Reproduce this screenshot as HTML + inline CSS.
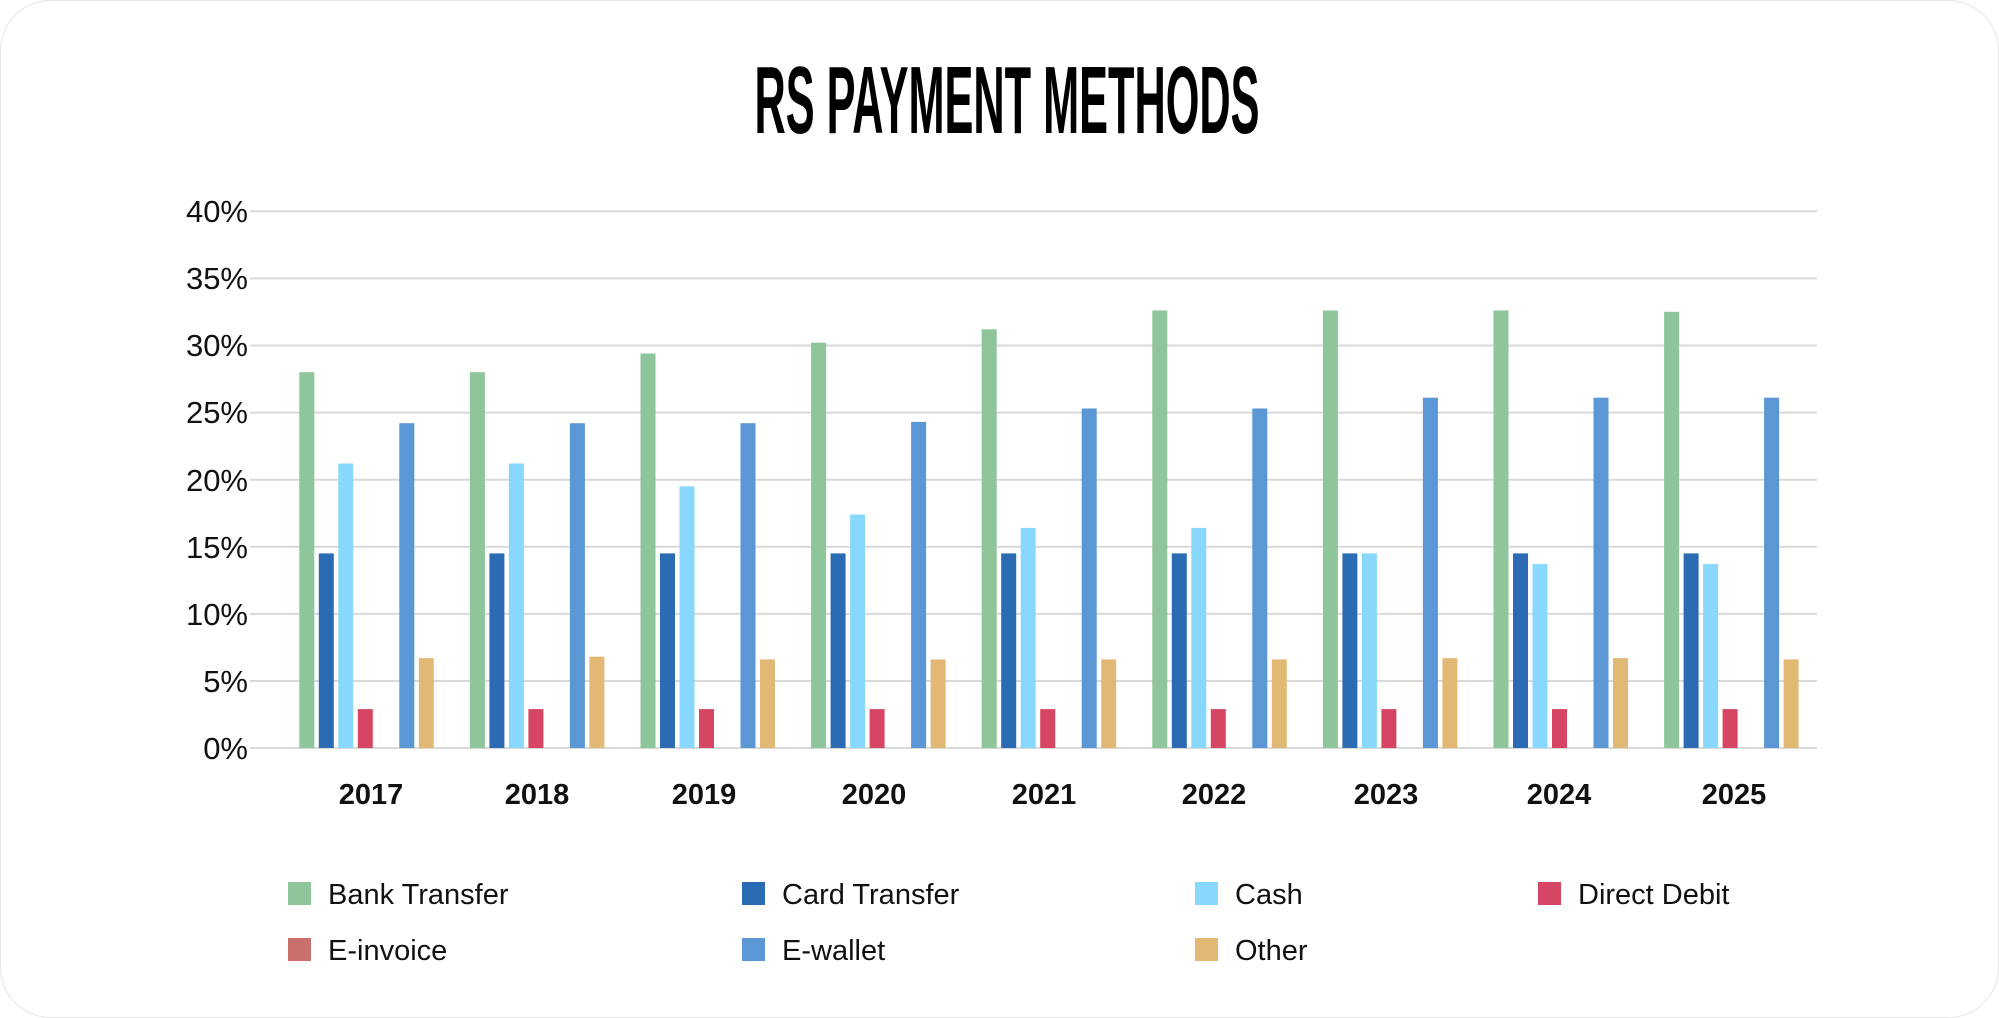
<!DOCTYPE html>
<html><head><meta charset="utf-8"><style>
html,body{margin:0;padding:0;background:#fff;}
svg{display:block;}
</style></head><body>
<svg width="1999" height="1018" viewBox="0 0 1999 1018" xmlns="http://www.w3.org/2000/svg" font-family="Liberation Sans, sans-serif">
<rect x="0.5" y="0.5" width="1998" height="1017" rx="50" fill="#fff" stroke="#e6e6e6"/>
<text x="1007" y="133" text-anchor="middle" font-size="96" font-weight="bold" textLength="505" lengthAdjust="spacingAndGlyphs" fill="#000">RS PAYMENT METHODS</text>
<g stroke="#d9d9d9" stroke-width="2">
<line x1="250" x2="1817" y1="211.3" y2="211.3"/>
<line x1="250" x2="1817" y1="278.4" y2="278.4"/>
<line x1="250" x2="1817" y1="345.5" y2="345.5"/>
<line x1="250" x2="1817" y1="412.6" y2="412.6"/>
<line x1="250" x2="1817" y1="479.7" y2="479.7"/>
<line x1="250" x2="1817" y1="546.8" y2="546.8"/>
<line x1="250" x2="1817" y1="613.9" y2="613.9"/>
<line x1="250" x2="1817" y1="681" y2="681"/>
<line x1="250" x2="1817" y1="748" y2="748"/>
</g>
<g font-size="31" fill="#111" text-anchor="end">
<text x="248" y="222">40%</text><text x="248" y="289">35%</text><text x="248" y="356">30%</text>
<text x="248" y="423">25%</text><text x="248" y="491">20%</text><text x="248" y="558">15%</text>
<text x="248" y="625">10%</text><text x="248" y="692">5%</text><text x="248" y="759">0%</text>
</g>
<g transform="translate(299.3,748) scale(1,-1)">
<rect x="0" width="15" height="375.8" fill="#8fc59a"/><rect x="19.5" width="15" height="194.6" fill="#2b6bb3"/><rect x="39" width="15" height="284.5" fill="#88d8fd"/><rect x="58.5" width="15" height="38.9" fill="#d64664"/><rect x="100" width="15" height="324.8" fill="#5b96d5"/><rect x="119.5" width="15" height="89.9" fill="#e2b974"/></g>
<g transform="translate(469.9,748) scale(1,-1)">
<rect x="0" width="15" height="375.8" fill="#8fc59a"/><rect x="19.5" width="15" height="194.6" fill="#2b6bb3"/><rect x="39" width="15" height="284.5" fill="#88d8fd"/><rect x="58.5" width="15" height="38.9" fill="#d64664"/><rect x="100" width="15" height="324.8" fill="#5b96d5"/><rect x="119.5" width="15" height="91.3" fill="#e2b974"/></g>
<g transform="translate(640.5,748) scale(1,-1)">
<rect x="0" width="15" height="394.5" fill="#8fc59a"/><rect x="19.5" width="15" height="194.6" fill="#2b6bb3"/><rect x="39" width="15" height="261.7" fill="#88d8fd"/><rect x="58.5" width="15" height="38.9" fill="#d64664"/><rect x="100" width="15" height="324.8" fill="#5b96d5"/><rect x="119.5" width="15" height="88.6" fill="#e2b974"/></g>
<g transform="translate(811.1,748) scale(1,-1)">
<rect x="0" width="15" height="405.3" fill="#8fc59a"/><rect x="19.5" width="15" height="194.6" fill="#2b6bb3"/><rect x="39" width="15" height="233.5" fill="#88d8fd"/><rect x="58.5" width="15" height="38.9" fill="#d64664"/><rect x="100" width="15" height="326.1" fill="#5b96d5"/><rect x="119.5" width="15" height="88.6" fill="#e2b974"/></g>
<g transform="translate(981.7,748) scale(1,-1)">
<rect x="0" width="15" height="418.7" fill="#8fc59a"/><rect x="19.5" width="15" height="194.6" fill="#2b6bb3"/><rect x="39" width="15" height="220.1" fill="#88d8fd"/><rect x="58.5" width="15" height="38.9" fill="#d64664"/><rect x="100" width="15" height="339.5" fill="#5b96d5"/><rect x="119.5" width="15" height="88.6" fill="#e2b974"/></g>
<g transform="translate(1152.3,748) scale(1,-1)">
<rect x="0" width="15" height="437.5" fill="#8fc59a"/><rect x="19.5" width="15" height="194.6" fill="#2b6bb3"/><rect x="39" width="15" height="220.1" fill="#88d8fd"/><rect x="58.5" width="15" height="38.9" fill="#d64664"/><rect x="100" width="15" height="339.5" fill="#5b96d5"/><rect x="119.5" width="15" height="88.6" fill="#e2b974"/></g>
<g transform="translate(1322.9,748) scale(1,-1)">
<rect x="0" width="15" height="437.5" fill="#8fc59a"/><rect x="19.5" width="15" height="194.6" fill="#2b6bb3"/><rect x="39" width="15" height="194.6" fill="#88d8fd"/><rect x="58.5" width="15" height="38.9" fill="#d64664"/><rect x="100" width="15" height="350.3" fill="#5b96d5"/><rect x="119.5" width="15" height="89.9" fill="#e2b974"/></g>
<g transform="translate(1493.5,748) scale(1,-1)">
<rect x="0" width="15" height="437.5" fill="#8fc59a"/><rect x="19.5" width="15" height="194.6" fill="#2b6bb3"/><rect x="39" width="15" height="183.9" fill="#88d8fd"/><rect x="58.5" width="15" height="38.9" fill="#d64664"/><rect x="100" width="15" height="350.3" fill="#5b96d5"/><rect x="119.5" width="15" height="89.9" fill="#e2b974"/></g>
<g transform="translate(1664.1,748) scale(1,-1)">
<rect x="0" width="15" height="436.2" fill="#8fc59a"/><rect x="19.5" width="15" height="194.6" fill="#2b6bb3"/><rect x="39" width="15" height="183.9" fill="#88d8fd"/><rect x="58.5" width="15" height="38.9" fill="#d64664"/><rect x="100" width="15" height="350.3" fill="#5b96d5"/><rect x="119.5" width="15" height="88.6" fill="#e2b974"/></g>
<g font-size="29" font-weight="bold" fill="#111" text-anchor="middle">
<text x="371" y="804">2017</text><text x="537" y="804">2018</text><text x="704" y="804">2019</text>
<text x="874" y="804">2020</text><text x="1044" y="804">2021</text><text x="1214" y="804">2022</text>
<text x="1386" y="804">2023</text><text x="1559" y="804">2024</text><text x="1734" y="804">2025</text>
</g>
<g font-size="29" fill="#111">
<rect x="288" y="882" width="23" height="23" fill="#8fc59a"/><text x="328" y="904">Bank Transfer</text>
<rect x="742" y="882" width="23" height="23" fill="#2b6bb3"/><text x="782" y="904">Card Transfer</text>
<rect x="1195" y="882" width="23" height="23" fill="#88d8fd"/><text x="1235" y="904">Cash</text>
<rect x="1538" y="882" width="23" height="23" fill="#d64664"/><text x="1578" y="904">Direct Debit</text>
<rect x="288" y="938" width="23" height="23" fill="#c9706a"/><text x="328" y="960">E-invoice</text>
<rect x="742" y="938" width="23" height="23" fill="#5b96d5"/><text x="782" y="960">E-wallet</text>
<rect x="1195" y="938" width="23" height="23" fill="#e2b974"/><text x="1235" y="960">Other</text>
</g>
</svg>
</body></html>
